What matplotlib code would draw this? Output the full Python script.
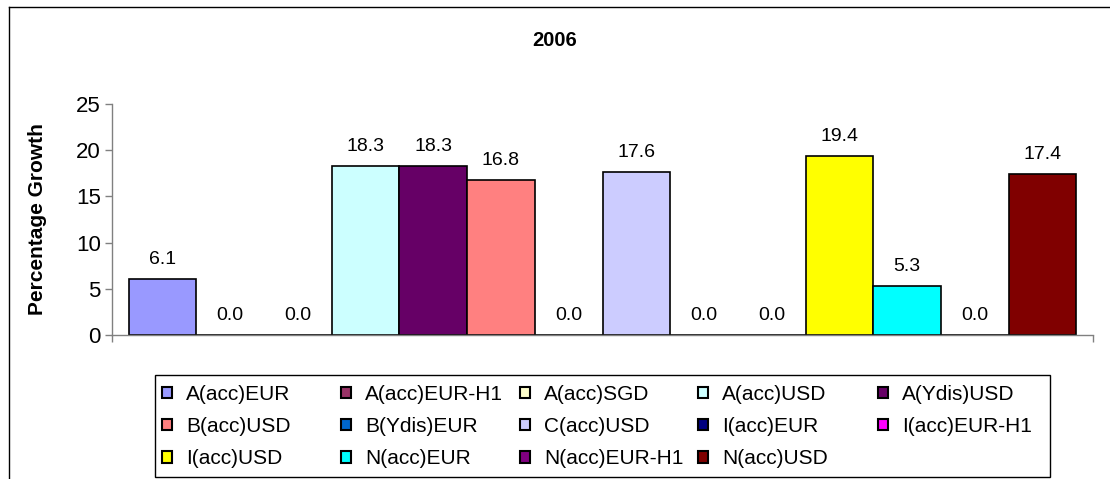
import numpy as np
import matplotlib.pyplot as plt
from matplotlib.patches import Patch
from matplotlib.lines import Line2D

plt.rcParams['font.family'] = ['Liberation Sans', 'DejaVu Sans']

# data
series = ["A(acc)EUR", "A(acc)EUR-H1", "A(acc)SGD", "A(acc)USD", "A(Ydis)USD",
          "B(acc)USD", "B(Ydis)EUR", "C(acc)USD", "I(acc)EUR", "I(acc)EUR-H1",
          "I(acc)USD", "N(acc)EUR", "N(acc)EUR-H1", "N(acc)USD"]
growth = [6.1, 0.0, 0.0, 18.3, 18.3, 16.8, 0.0, 17.6, 0.0, 0.0, 19.4, 5.3, 0.0, 17.4]
colors = ["#9999FF", "#993366", "#FFFFCC", "#CCFFFF", "#660066",
          "#FF8080", "#0066CC", "#CCCCFF", "#000080", "#FF00FF",
          "#FFFF00", "#00FFFF", "#800080", "#800000"]
year = "2006"

fig = plt.figure(figsize=(11.1, 4.79), dpi=100)
ax = fig.add_axes([112/1110, 1-335/479, 981/1110, 231/479])

x = np.arange(len(series))
bars = ax.bar(x, growth, width=1.0, color=colors, edgecolor="black", linewidth=1.2)
ax.bar_label(bars, fmt="%.1f", padding=8, fontsize=14)

gap = 0.244
ax.set_xlim(-0.5 - gap, len(series) - 0.5 + gap)
ax.set_ylim(0, 25)
ax.set_yticks([0, 5, 10, 15, 20, 25])
ax.set_xticks([-0.5 - gap, len(series) - 0.5 + gap])
ax.set_xticklabels([])
ax.tick_params(axis="both", direction="out", length=5, width=1, color="#808080",
               labelsize=16, pad=3)

for s in ["top", "right"]:
    ax.spines[s].set_visible(False)
for s in ["left", "bottom"]:
    ax.spines[s].set_color("#808080")
    ax.spines[s].set_linewidth(1.0)

ax.set_ylabel("Percentage Growth", fontsize=15, fontweight="bold")
ax.yaxis.set_label_coords(-0.066, 0.5)

fig.text(0.5, 1 - 40/479, year, ha="center", va="center", fontsize=14.5, fontweight="bold")

# outer chart border (top and left visible)
fig.add_artist(Line2D([9/1110, 9/1110], [0, 1 - 7/479], color="black", lw=1,
                      transform=fig.transFigure))
fig.add_artist(Line2D([9/1110, 1], [1 - 7/479, 1 - 7/479], color="black", lw=1,
                      transform=fig.transFigure))

# legend: Excel style, filled row by row in 5 equal columns
handles = [Patch(facecolor=c, edgecolor="black", linewidth=1.5) for c in colors]
ncol = 5
col_x = [162, 341, 520, 698, 878]
for j in range(ncol):
    idx = list(range(j, len(series), ncol))
    leg = fig.legend([handles[i] for i in idx], [series[i] for i in idx],
                     loc="upper left", bbox_to_anchor=(col_x[j]/1110, 1 - 385/479),
                     frameon=False, fontsize=15, borderpad=0, borderaxespad=0,
                     handlelength=0.47, handleheight=0.47, handletextpad=0.7,
                     labelspacing=0.63)
fig.add_artist(plt.Rectangle((155/1110, 1 - 477/479), 895/1110, 102/479,
                             fill=False, edgecolor="black", lw=1,
                             transform=fig.transFigure))

fig.savefig("out.png", dpi=100)
